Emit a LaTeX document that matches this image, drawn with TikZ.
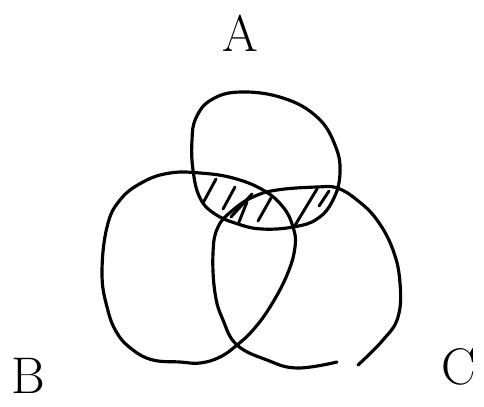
\documentclass[tikz,border=0pt]{standalone}
\usepackage{tikz}
\usetikzlibrary{
  calc  % 坐标计算
}

\begin{document}
\begin{tikzpicture}[x=0.03cm, y=-0.03cm, line width=2.7pt, line cap=round, line join=round]
    % 画布范围（按像素坐标）
    \useasboundingbox (0,0) rectangle (484,406);
    \tikzset{
      setline/.style={draw=black},
      hatchline/.style={draw=black, line width=2.5pt},
      setlabel/.style={font=\fontsize{44}{44}\selectfont, inner sep=0pt}
    }

    % --- 集合 A ---
    \draw[setline] plot[smooth cycle, tension=0.7] coordinates {
      (196,118) (211,100) (240,92) (283,98) (317,117) (335,145) (340,173) (333,200)
      (317,219) (293,227) (262,229) (238,224) (215,214) (200,198) (193,170) (192,140)};

    % --- 集合 B ---
    \draw[setline] plot[smooth cycle, tension=0.7] coordinates {
      (170,173) (200,173) (233,178) (263,190) (283,207) (293,227) (295,247)
      (287,275) (270,307) (253,330) (237,345) (220,357) (200,363) (180,362)
      (153,360) (133,350) (117,333) (107,307) (102,273) (107,227) (120,200) (143,182)};

    % --- 集合 C（下方留有缺口）---
    \draw[setline] plot[smooth, tension=0.7] coordinates {
      (337,362) (297,368) (267,360) (237,345) (223,320) (215,293) (213,253)
      (218,227) (233,210) (253,197) (277,190) (317,187) (337,188) (357,200)
      (377,220) (393,250) (400,283) (398,317) (383,340) (358,365)};

    % --- 阴影：A 与 (B 并 C) 的公共部分 ---
    \foreach \xa/\ya/\xb/\yb in {203/203/216/179, 223/209/235/187, 231/217/252/194,
                                 239/222/247/202, 258/221/271/198, 294/227/317/189,
                                 319/206/329/191}{
      \draw[hatchline] (\xa,\ya) -- (\xb,\yb);
    }

    % --- 集合名称 ---
    \node[setlabel] (labelA) at (240,33) {A};
    \node[setlabel] (labelB) at (28,376) {B};
    \node[setlabel] (labelC) at (459,367) {C};

\end{tikzpicture}
\end{document}
